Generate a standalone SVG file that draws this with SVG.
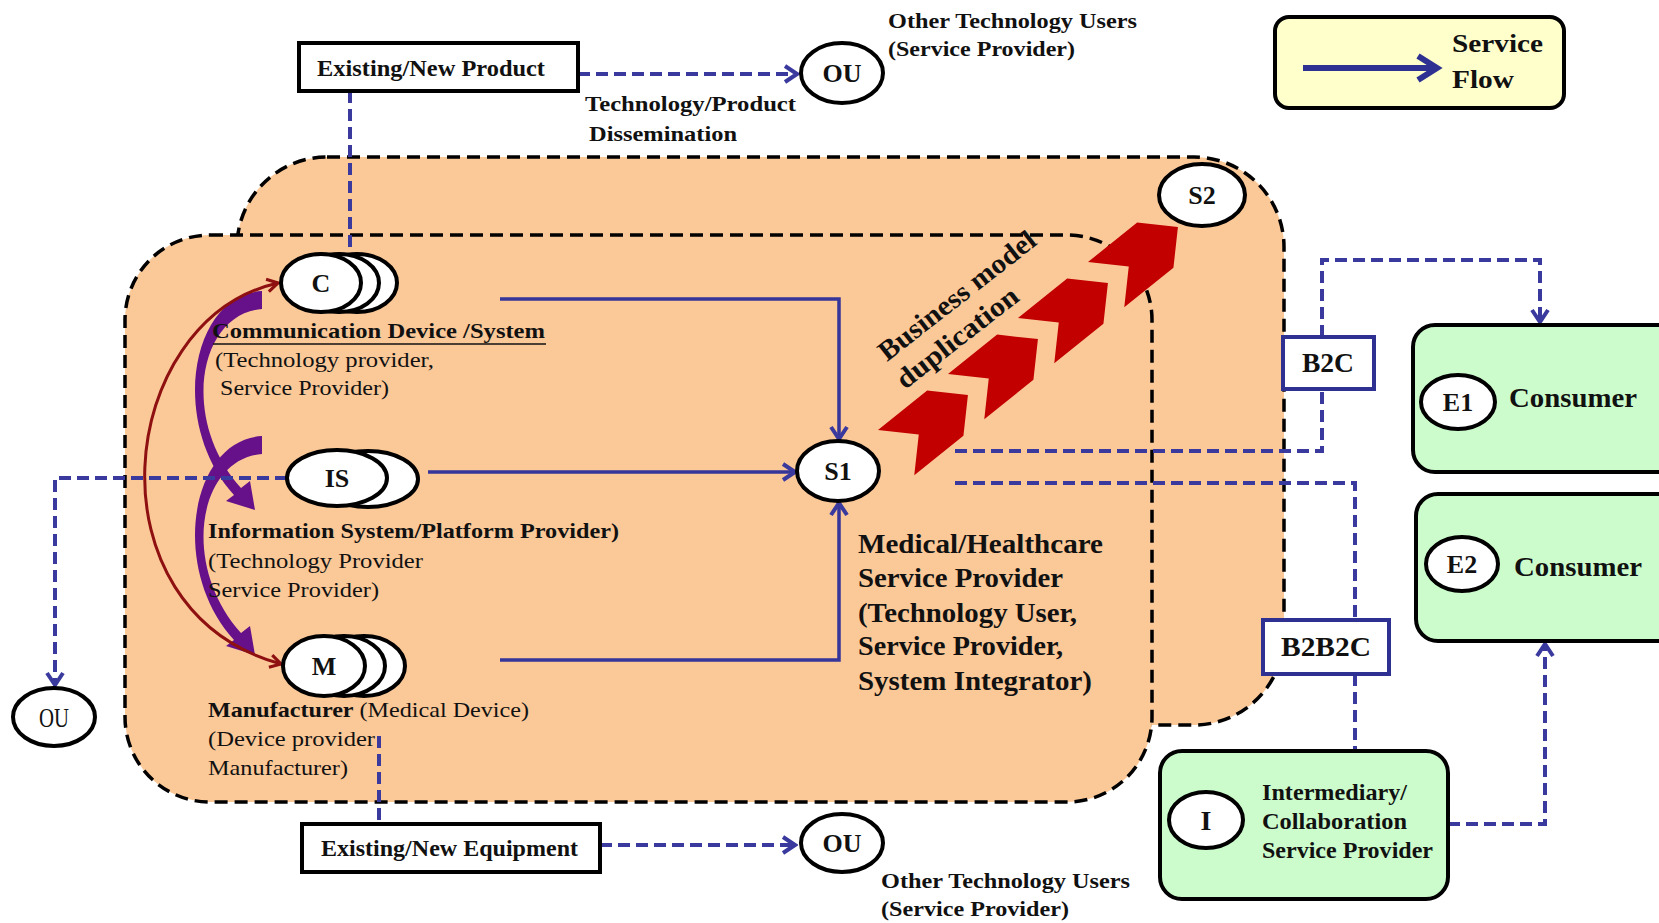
<svg xmlns="http://www.w3.org/2000/svg" width="1659" height="923" viewBox="0 0 1659 923">
<style>
.t{font-family:"Liberation Serif","Times New Roman",serif;fill:#111}
.b{font-weight:bold}
.dash{fill:none;stroke:#3A3A9E;stroke-width:4;stroke-dasharray:12 6}
.flow{fill:none;stroke:#35359A;stroke-width:3.5}
.region{fill:#FBC898;stroke:#000;stroke-width:3.5;stroke-dasharray:13 7}
.ell{fill:#fff;stroke:#000;stroke-width:4}
.box{fill:#fff;stroke:#000;stroke-width:4}
.bbox{fill:#fff;stroke:#2E3192;stroke-width:4}
.green{fill:#CCFCCC;stroke:#000;stroke-width:4}
.purple{fill:#66108A}
</style>
<defs>
<marker id="vb" viewBox="0 0 20 20" refX="17" refY="10" markerWidth="20" markerHeight="20" orient="auto" markerUnits="userSpaceOnUse">
<path d="M5,2 L17,10 L5,18" fill="none" stroke="#3A3A9E" stroke-width="4"/>
</marker>
<marker id="vr" viewBox="0 0 20 20" refX="17" refY="10" markerWidth="18" markerHeight="18" orient="auto-start-reverse" markerUnits="userSpaceOnUse">
<path d="M5,3 L17,10 L5,17" fill="none" stroke="#8E1010" stroke-width="3.5"/>
</marker>
<path id="chev" d="M0,0 L63,0 L92,29 L63,58 L0,58 L29,29 Z" fill="#C20000"/>
<path id="parrow" d="M262,291 C190,295 169,424 234,495 L226,501 L255,510 L250,481 L241,488 C180,420 198,314 262,309 Z"/>
</defs>
<rect width="1659" height="923" fill="#fff"/>

<g id="regions">
<rect class="region" x="237" y="157" width="1047" height="568" rx="90" ry="90"/>
<rect class="region" x="125" y="235" width="1027" height="567" rx="85" ry="85"/>
</g>

<g id="legend">
<rect x="1275" y="17" width="289" height="91" rx="14" fill="#FFFFCC" stroke="#000" stroke-width="4"/>
<line x1="1303" y1="68" x2="1432" y2="68" stroke="#2E3192" stroke-width="6"/>
<path d="M1418,56 L1437,68 L1418,80" fill="none" stroke="#2E3192" stroke-width="6"/>
<text class="t b" x="1452" y="52" font-size="26" textLength="91" lengthAdjust="spacingAndGlyphs">Service</text>
<text class="t b" x="1452" y="88" font-size="26" textLength="62" lengthAdjust="spacingAndGlyphs">Flow</text>
</g>

<g id="cross-arrows">
<use href="#parrow" class="purple"/>
<use href="#parrow" class="purple" transform="translate(0,145)"/>
<path d="M278,283 C115,320 85,610 281,664" fill="none" stroke="#8E1010" stroke-width="3" marker-start="url(#vr)" marker-end="url(#vr)"/>
</g>

<g id="connectors">
<path class="dash" d="M578,74 H797" marker-end="url(#vb)"/>
<path class="dash" d="M350,91 V254"/>
<path class="dash" d="M287,478 H55 V685" marker-end="url(#vb)"/>
<path class="dash" d="M379,736 V823"/>
<path class="dash" d="M600,845 H795" marker-end="url(#vb)"/>
<path class="flow" d="M500,299 H839 V439" marker-end="url(#vb)"/>
<path class="flow" d="M428,472 H795" marker-end="url(#vb)"/>
<path class="flow" d="M500,660 H839 V503" marker-end="url(#vb)"/>
<path class="dash" d="M955,451 H1322 V389"/>
<path class="dash" d="M1322,337 V260 H1540 V322" marker-end="url(#vb)"/>
<path class="dash" d="M955,483 H1355 V620"/>
<path class="dash" d="M1355,674 V750"/>
<path class="dash" d="M1448,824 H1545 V644" marker-end="url(#vb)"/>
</g>

<g id="product">
<rect class="box" x="299" y="43" width="279" height="48"/>
<text class="t b" x="317" y="76" font-size="23" textLength="228" lengthAdjust="spacingAndGlyphs">Existing/New Product</text>
<text class="t b" x="585" y="111" font-size="22" textLength="211" lengthAdjust="spacingAndGlyphs">Technology/Product</text>
<text class="t b" x="589" y="141" font-size="22" textLength="148" lengthAdjust="spacingAndGlyphs">Dissemination</text>
</g>

<g id="ou-top">
<ellipse class="ell" cx="842" cy="73" rx="41" ry="30"/>
<text class="t b" x="842" y="82" font-size="26" text-anchor="middle">OU</text>
<text class="t b" x="888" y="28" font-size="22" textLength="249" lengthAdjust="spacingAndGlyphs">Other Technology Users</text>
<text class="t b" x="888" y="56" font-size="22" textLength="187" lengthAdjust="spacingAndGlyphs">(Service Provider)</text>
</g>

<g id="node-c">
<ellipse class="ell" cx="357" cy="283" rx="40" ry="29"/>
<ellipse class="ell" cx="339" cy="283" rx="40" ry="29"/>
<ellipse class="ell" cx="321" cy="283" rx="40" ry="29"/>
<text class="t b" x="321" y="292" font-size="26" text-anchor="middle">C</text>
<text class="t b" x="212" y="338" font-size="22" textLength="333" lengthAdjust="spacingAndGlyphs">Communication Device /System</text>
<line x1="213" y1="344" x2="546" y2="344" stroke="#111" stroke-width="1.5"/>
<text class="t" x="215" y="367" font-size="22" textLength="219" lengthAdjust="spacingAndGlyphs">(Technology provider,</text>
<text class="t" x="220" y="395" font-size="22" textLength="169" lengthAdjust="spacingAndGlyphs">Service Provider)</text>
</g>

<g id="node-is">
<ellipse class="ell" cx="368" cy="479" rx="50" ry="28"/>
<ellipse class="ell" cx="337" cy="478" rx="50" ry="28"/>
<text class="t b" x="337" y="487" font-size="26" text-anchor="middle">IS</text>
<text class="t b" x="208" y="538" font-size="22" textLength="411" lengthAdjust="spacingAndGlyphs">Information System/Platform Provider)</text>
<text class="t" x="208" y="568" font-size="22" textLength="215" lengthAdjust="spacingAndGlyphs">(Technology Provider</text>
<text class="t" x="208" y="597" font-size="22" textLength="171" lengthAdjust="spacingAndGlyphs">Service Provider)</text>
</g>

<g id="node-m">
<ellipse class="ell" cx="364" cy="666" rx="41" ry="30"/>
<ellipse class="ell" cx="344" cy="666" rx="41" ry="30"/>
<ellipse class="ell" cx="324" cy="666" rx="41" ry="30"/>
<text class="t b" x="324" y="675" font-size="26" text-anchor="middle">M</text>
<text class="t" x="208" y="717" font-size="22" textLength="321" lengthAdjust="spacingAndGlyphs"><tspan font-weight="bold">Manufacturer</tspan> (Medical Device)</text>
<text class="t" x="208" y="746" font-size="22" textLength="167" lengthAdjust="spacingAndGlyphs">(Device provider</text>
<text class="t" x="208" y="775" font-size="22" textLength="140" lengthAdjust="spacingAndGlyphs">Manufacturer)</text>
</g>

<g id="ou-left">
<ellipse class="ell" cx="54" cy="717" rx="41" ry="29"/>
<text class="t" x="54" y="727" font-size="28" text-anchor="middle" textLength="30" lengthAdjust="spacingAndGlyphs">OU</text>
</g>

<g id="equipment">
<rect class="box" x="302" y="824" width="298" height="48"/>
<text class="t b" x="321" y="856" font-size="23" textLength="257" lengthAdjust="spacingAndGlyphs">Existing/New Equipment</text>
</g>

<g id="ou-bottom">
<ellipse class="ell" cx="842" cy="843" rx="41" ry="29"/>
<text class="t b" x="842" y="852" font-size="26" text-anchor="middle">OU</text>
<text class="t b" x="881" y="888" font-size="22" textLength="249" lengthAdjust="spacingAndGlyphs">Other Technology Users</text>
<text class="t b" x="881" y="916" font-size="22" textLength="188" lengthAdjust="spacingAndGlyphs">(Service Provider)</text>
</g>

<g id="node-s1">
<ellipse class="ell" cx="838" cy="471" rx="41" ry="30"/>
<text class="t b" x="838" y="480" font-size="26" text-anchor="middle">S1</text>
<text class="t b" x="858" y="553" font-size="27" textLength="245" lengthAdjust="spacingAndGlyphs">Medical/Healthcare</text>
<text class="t b" x="858" y="587" font-size="27" textLength="205" lengthAdjust="spacingAndGlyphs">Service Provider</text>
<text class="t b" x="858" y="622" font-size="27" textLength="219" lengthAdjust="spacingAndGlyphs">(Technology User,</text>
<text class="t b" x="858" y="655" font-size="27" textLength="205" lengthAdjust="spacingAndGlyphs">Service Provider,</text>
<text class="t b" x="858" y="690" font-size="27" textLength="234" lengthAdjust="spacingAndGlyphs">System Integrator)</text>
</g>

<g id="duplication">
<use href="#chev" transform="translate(878,430) rotate(-38.7)"/>
<use href="#chev" transform="translate(948,374) rotate(-38.7)"/>
<use href="#chev" transform="translate(1018,318) rotate(-38.7)"/>
<use href="#chev" transform="translate(1088,262) rotate(-38.7)"/>
<text class="t b" transform="translate(887,362) rotate(-38)" font-size="28" textLength="192" lengthAdjust="spacingAndGlyphs">Business model</text>
<text class="t b" transform="translate(905,390) rotate(-38)" font-size="28" textLength="147" lengthAdjust="spacingAndGlyphs">duplication</text>
</g>

<g id="node-s2">
<ellipse class="ell" cx="1202" cy="195" rx="43" ry="31"/>
<text class="t b" x="1202" y="204" font-size="26" text-anchor="middle">S2</text>
</g>

<g id="b2c">
<rect class="bbox" x="1283" y="337" width="91" height="52"/>
<text class="t b" x="1328" y="372" font-size="27" text-anchor="middle" textLength="52" lengthAdjust="spacingAndGlyphs">B2C</text>
</g>

<g id="b2b2c">
<rect class="bbox" x="1263" y="620" width="126" height="54"/>
<text class="t b" x="1326" y="656" font-size="27" text-anchor="middle" textLength="90" lengthAdjust="spacingAndGlyphs">B2B2C</text>
</g>

<g id="node-e1">
<rect class="green" x="1413" y="325" width="270" height="147" rx="22"/>
<ellipse class="ell" cx="1458" cy="402" rx="37" ry="27"/>
<text class="t b" x="1458" y="411" font-size="26" text-anchor="middle">E1</text>
<text class="t b" x="1509" y="407" font-size="28" textLength="128" lengthAdjust="spacingAndGlyphs">Consumer</text>
</g>

<g id="node-e2">
<rect class="green" x="1416" y="494" width="270" height="147" rx="22"/>
<ellipse class="ell" cx="1462" cy="564" rx="36" ry="27"/>
<text class="t b" x="1462" y="573" font-size="26" text-anchor="middle">E2</text>
<text class="t b" x="1514" y="576" font-size="28" textLength="128" lengthAdjust="spacingAndGlyphs">Consumer</text>
</g>

<g id="node-i">
<rect class="green" x="1160" y="751" width="288" height="148" rx="22"/>
<ellipse class="ell" cx="1206" cy="820" rx="37" ry="28"/>
<text class="t b" x="1206" y="830" font-size="28" text-anchor="middle">I</text>
<text class="t b" x="1262" y="800" font-size="23" textLength="145" lengthAdjust="spacingAndGlyphs">Intermediary/</text>
<text class="t b" x="1262" y="829" font-size="23" textLength="145" lengthAdjust="spacingAndGlyphs">Collaboration</text>
<text class="t b" x="1262" y="858" font-size="23" textLength="171" lengthAdjust="spacingAndGlyphs">Service Provider</text>
</g>
</svg>
